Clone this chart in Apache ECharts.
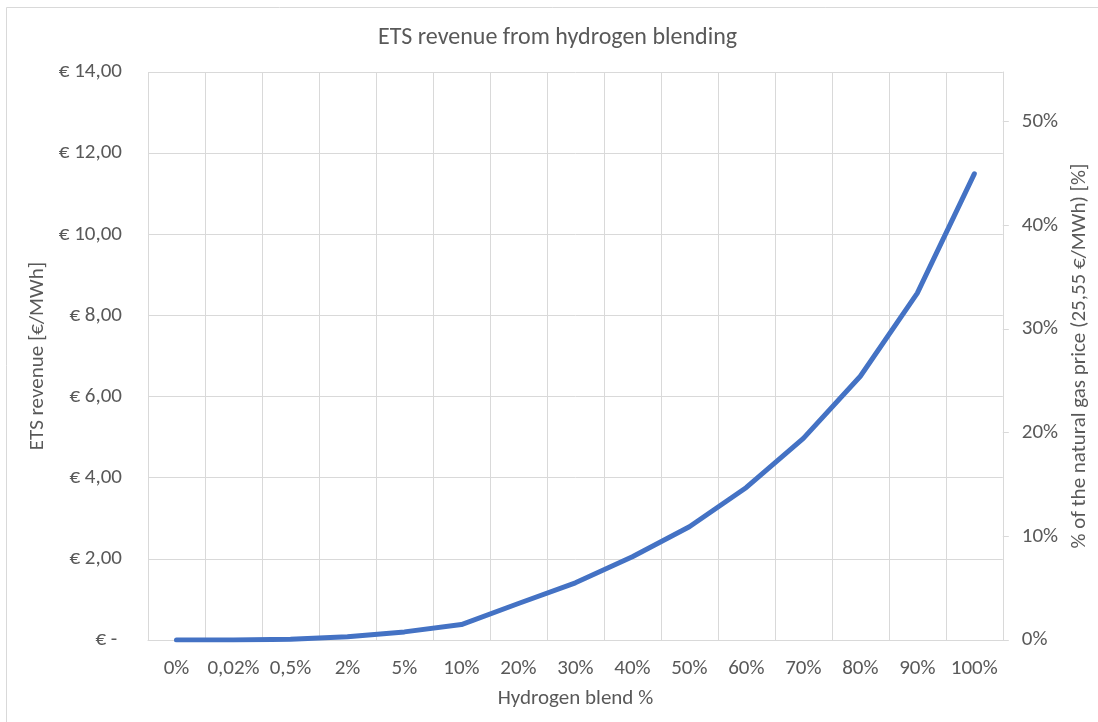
<!DOCTYPE html>
<html>
<head>
<meta charset="utf-8">
<script src="https://cdn.jsdelivr.net/npm/echarts@6/dist/echarts.min.js"></script>
<style>
html,body{margin:0;padding:0;background:#fff;}
#chart{width:1098px;height:722px;}
</style>
</head>
<body>
<div id="chart"></div>
<script>
const categories = ['0%','0,02%','0,5%','2%','5%','10%','20%','30%','40%','50%','60%','70%','80%','90%','100%'];
const revenue = [0, 0.00, 0.02, 0.08, 0.20, 0.38, 0.90, 1.41, 2.05, 2.79, 3.76, 4.97, 6.50, 8.55, 11.49];
const gasPrice = 25.55;
const leftMax = 14;
const leftInterval = 2;

const FONT = 'Carlito, "Liberation Sans Narrow", "Open Sans", sans-serif';
const TXT = '#595959';
const GRID = '#d9d9d9';

const chart = echarts.init(document.getElementById('chart'));
chart.setOption({
  animation: false,
  backgroundColor: '#fff',
  textStyle: {fontFamily: FONT},
  title: {
    text: 'ETS revenue from hydrogen blending',
    left: 373, top: 21,
    textStyle: {fontFamily: FONT, fontSize: 24, fontWeight: 'normal', color: TXT}
  },
  graphic: [{
    type: 'rect', silent: true,
    shape: {x: 6.5, y: 7.5, width: 1200, height: 800},
    style: {fill: 'none', stroke: GRID, lineWidth: 1}
  }],
  grid: {left: 148, right: 94, top: 72, bottom: 82, containLabel: false},
  xAxis: {
    type: 'category',
    data: categories,
    boundaryGap: true,
    name: 'Hydrogen blend %',
    nameLocation: 'middle',
    nameGap: 48,
    nameTextStyle: {fontFamily: FONT, fontSize: 21, color: TXT},
    axisLine: {show: true, lineStyle: {color: GRID, width: 1}},
    axisTick: {show: false},
    axisLabel: {fontFamily: FONT, fontSize: 21, color: TXT, margin: 18, interval: 0},
    splitLine: {show: true, lineStyle: {color: GRID, width: 1}}
  },
  yAxis: [{
    type: 'value',
    min: 0, max: leftMax, interval: leftInterval,
    position: 'left',
    name: 'ETS revenue [€/MWh]',
    nameLocation: 'middle',
    nameGap: 95,
    nameTextStyle: {fontFamily: FONT, fontSize: 21, color: TXT},
    axisLine: {show: false},
    axisTick: {show: false},
    axisLabel: {
      fontFamily: FONT, fontSize: 21, color: TXT, margin: 26,
      formatter: v => v === 0 ? '€ -\u00a0' : '€ ' + v.toFixed(2).replace('.', ',')
    },
    splitLine: {show: true, lineStyle: {color: GRID, width: 1}}
  }, {
    type: 'value',
    min: 0, max: leftMax / gasPrice, interval: 0.1,
    position: 'right',
    name: '% of the natural gas price (25,55 €/MWh) [%]',
    nameLocation: 'middle',
    nameGap: 66,
    nameRotate: 90,
    nameTextStyle: {fontFamily: FONT, fontSize: 21, color: TXT},
    axisLine: {show: true, lineStyle: {color: GRID, width: 1}},
    axisTick: {show: true, inside: false, length: 6, lineStyle: {color: GRID}},
    axisLabel: {
      fontFamily: FONT, fontSize: 21, color: TXT, margin: 19,
      formatter: v => Math.round(v * 100) + '%',
      showMaxLabel: false
    },
    splitLine: {show: false}
  }],
  series: [{
    type: 'line',
    data: revenue,
    yAxisIndex: 0,
    symbol: 'none',
    smooth: false,
    lineStyle: {color: '#4472c4', width: 5, cap: 'round', join: 'round'},
    itemStyle: {color: '#4472c4'}
  }]
});
</script>
</body>
</html>
